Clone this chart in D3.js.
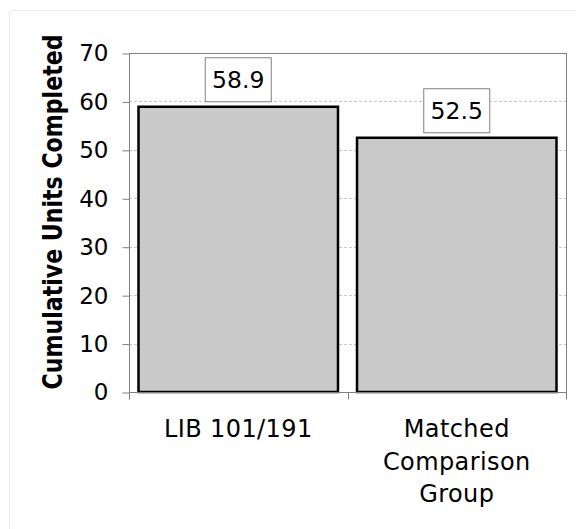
<!DOCTYPE html>
<html>
<head>
<meta charset="utf-8">
<script src="https://cdn.jsdelivr.net/npm/d3@7"></script>
<style>
  html, body { margin: 0; padding: 0; background: #fff; }
  svg { display: block; font-family: "DejaVu Sans", Verdana, sans-serif; }
</style>
</head>
<body>
<svg id="chart" width="576" height="529"></svg>
<script>
const categories = [["LIB 101/191"], ["Matched", "Comparison", "Group"]];
const values = [58.9, 52.5];
const valueLabels = ["58.9", "52.5"];
const yTicks = [0, 10, 20, 30, 40, 50, 60, 70];
const yTitle = "Cumulative Units Completed";

const svg = d3.select("#chart");
const plot = { left: 129, right: 566, top: 53, bottom: 392 };

// outer chart border
svg.append("rect").attr("x", 9.5).attr("y", 10.5).attr("width", 600).attr("height", 600)
  .attr("rx", 3).attr("fill", "#fff").attr("stroke", "#ececec").attr("stroke-width", 1);

const x = d3.scaleBand().domain(d3.range(values.length))
  .range([plot.left, plot.right]).paddingInner(0.087).paddingOuter(0.0435);
const y = d3.scaleLinear().domain([0, 70]).range([plot.bottom, plot.top]);

// gridlines
svg.append("g").selectAll("line").data(yTicks.filter(t => t > 0 && t < 70)).join("line")
  .attr("x1", plot.left).attr("x2", plot.right)
  .attr("y1", d => Math.round(y(d)) + 0.5).attr("y2", d => Math.round(y(d)) + 0.5)
  .attr("stroke", "#c8c8c8").attr("stroke-width", 1).attr("stroke-dasharray", "3,2");

// plot frame top & right
svg.append("line").attr("x1", plot.left).attr("x2", plot.right + 0.5)
  .attr("y1", plot.top + 0.5).attr("y2", plot.top + 0.5).attr("stroke", "#808080");
svg.append("line").attr("x1", plot.right + 0.5).attr("x2", plot.right + 0.5)
  .attr("y1", plot.top).attr("y2", plot.bottom + 7).attr("stroke", "#808080");

// bars
svg.append("g").selectAll("rect").data(values).join("rect")
  .attr("x", (d, i) => x(i)).attr("width", x.bandwidth())
  .attr("y", d => y(d)).attr("height", d => y(0) - y(d))
  .attr("fill", "#c9c9c9").attr("stroke", "#000").attr("stroke-width", 2.5);

// y axis
const yAxis = d3.axisLeft(y).tickValues(yTicks).tickSize(7).tickPadding(14);
const gy = svg.append("g").attr("transform", `translate(${plot.left + 0.5},0.5)`).call(yAxis);
gy.select(".domain").attr("stroke", "#808080").attr("d", `M0,${plot.top}V${plot.bottom + 7}`);
gy.selectAll(".tick line").attr("stroke", "#808080");
gy.selectAll(".tick text").attr("font-size", 23).attr("fill", "#000")
  .attr("font-family", "DejaVu Sans, Verdana, sans-serif");

// x axis
const gx = svg.append("g").attr("transform", `translate(0,${plot.bottom + 0.5})`);
gx.append("line").attr("x1", plot.left).attr("x2", plot.right + 0.5).attr("y1", 0).attr("y2", 0)
  .attr("stroke", "#808080");
const boundaries = [plot.left, (plot.left + plot.right) / 2, plot.right];
gx.selectAll("line.tk").data(boundaries).join("line").attr("class", "tk")
  .attr("x1", d => Math.round(d) + 0.5).attr("x2", d => Math.round(d) + 0.5)
  .attr("y1", 0).attr("y2", 7).attr("stroke", "#808080");

// category labels
svg.append("g").selectAll("text").data(categories).join("text")
  .attr("x", (d, i) => x(i) + x.bandwidth() / 2)
  .attr("y", 437)
  .attr("text-anchor", "middle").attr("font-size", 24).attr("fill", "#000")
  .attr("letter-spacing", 0.4)
  .selectAll("tspan").data(d => d).join("tspan")
  .attr("x", function () { return d3.select(this.parentNode).attr("x"); })
  .attr("dy", (d, i) => i === 0 ? 0 : 32.5)
  .text(d => d);

// value labels with boxes
const lbl = svg.append("g").selectAll("g").data(values).join("g")
  .attr("transform", (d, i) => `translate(${x(i) + x.bandwidth() / 2},${y(d) - 5})`);
lbl.append("rect").attr("x", -33).attr("y", -44).attr("width", 66).attr("height", 44)
  .attr("fill", "#fff").attr("stroke", "#808080").attr("stroke-width", 1);
lbl.append("text").attr("x", 0).attr("y", -14).attr("text-anchor", "middle")
  .attr("font-size", 23.5).attr("fill", "#000").text((d, i) => valueLabels[i]);

// y title
svg.append("text").attr("transform", `translate(62,212) rotate(-90) scale(0.85,1)`)
  .attr("text-anchor", "middle").attr("font-size", 26).attr("font-weight", "bold")
  .attr("fill", "#000").text(yTitle);
</script>
</body>
</html>
